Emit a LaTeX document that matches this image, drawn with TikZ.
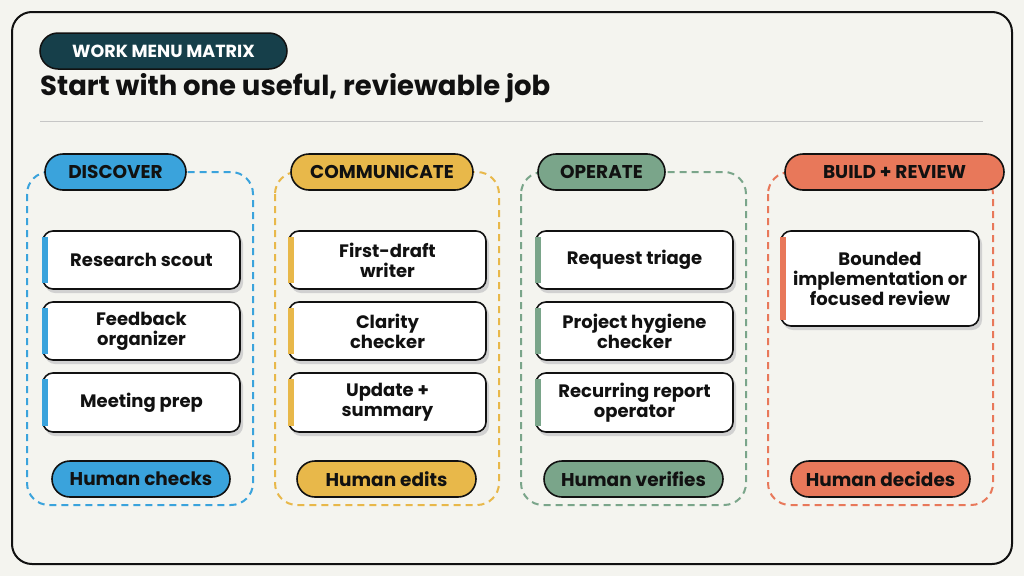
\documentclass[tikz,border=0pt]{standalone}
\usepackage{fontspec}
\setmainfont{Poppins}
\definecolor{bg}{HTML}{F4F4EF}
\definecolor{ink}{HTML}{111111}
\definecolor{teal}{HTML}{163F4A}
\definecolor{cb}{HTML}{3AA3DC}
\definecolor{cy}{HTML}{E8B84A}
\definecolor{cg}{HTML}{7AA58A}
\definecolor{co}{HTML}{E8785A}
\begin{document}
\begin{tikzpicture}[x=1pt,y=-1pt,
  col/.style={draw=#1,line width=2pt,dash pattern=on 7pt off 5pt,rounded corners=22pt},
  pill/.style={draw=ink,line width=1.6pt,fill=#1,rounded corners=18pt,font=\bfseries\fontsize{18.5}{20}\selectfont,text=ink,minimum height=36pt,inner sep=0pt},
  card/.style={draw=ink,line width=1.6pt,fill=white,rounded corners=10pt,font=\bfseries\fontsize{18}{20}\selectfont,text=ink,align=center,inner sep=0pt}]
\useasboundingbox (0,0) rectangle (1024,576);
\fill[bg] (0,0) rectangle (1024,576);
\draw[ink,line width=2pt,rounded corners=20pt,fill=bg] (12,12) rectangle (1012,564);
\node[fill=teal,draw=ink,line width=1.5pt,rounded corners=18pt,minimum width=247pt,minimum height=36pt,text=white,font=\bfseries\fontsize{17.5}{19}\selectfont,inner sep=0pt] (tp) at (163.5,51) {WORK MENU MATRIX};
\node[anchor=west,font=\bfseries\fontsize{27.5}{30}\selectfont,text=ink,inner sep=0pt] (hd) at (40,88) {Start with one useful, reviewable job};
\draw[gray!45,line width=1pt] (40,121) -- (983,121);
% columns
\foreach \xa/\xb/\c in {27/253/cb,275/499/cy,521/746/cg,768/993/co}{
  \draw[col=\c] (\xa,172) rectangle (\xb,505);}
\node[pill=cb,minimum width=141pt] (h1) at (115.5,172) {DISCOVER};
\node[pill=cy,minimum width=182pt] (h2) at (382,172) {COMMUNICATE};
\node[pill=cg,minimum width=127pt] (h3) at (601.5,172) {OPERATE};
\node[pill=co,minimum width=219pt] (h4) at (894.5,172) {BUILD + REVIEW};
\node[pill=cb,minimum width=178pt] (f1) at (141,479) {Human checks};
\node[pill=cy,minimum width=179pt] (f2) at (386.5,479) {Human edits};
\node[pill=cg,minimum width=179pt] (f3) at (633.5,479) {Human verifies};
\node[pill=co,minimum width=179pt] (f4) at (880.5,479) {Human decides};
% cards
\newcommand\crd[7]{% name, x1, x2, y1, y2, color, text
  \fill[black!18,rounded corners=10pt] (#2+2,#4+3) rectangle (#3+3,#5+4);
  \node[card,minimum width=#3pt-#2pt,minimum height=#5pt-#4pt] (#1) at ({(#2+#3)/2},{(#4+#5)/2}) {#7};
  \fill[#6] (#2-0.8,#4+6) rectangle (#2+5,#5-6);}
\crd{a1}{43}{240}{231}{289}{cb}{Research scout}
\crd{a2}{43}{240}{302}{360}{cb}{Feedback\\organizer}
\crd{a3}{43}{240}{373}{432}{cb}{Meeting prep}
\crd{b1}{289}{486}{231}{289}{cy}{First-draft\\writer}
\crd{b2}{289}{486}{302}{360}{cy}{Clarity\\checker}
\crd{b3}{289}{486}{373}{432}{cy}{Update +\\summary}
\crd{c1}{536}{733}{231}{289}{cg}{Request triage}
\crd{c2}{536}{733}{302}{360}{cg}{Project hygiene\\checker}
\crd{c3}{536}{733}{373}{432}{cg}{Recurring report\\operator}
\crd{d1}{781}{979}{231}{326}{co}{Bounded\\implementation or\\focused review}
\end{tikzpicture}
\end{document}
